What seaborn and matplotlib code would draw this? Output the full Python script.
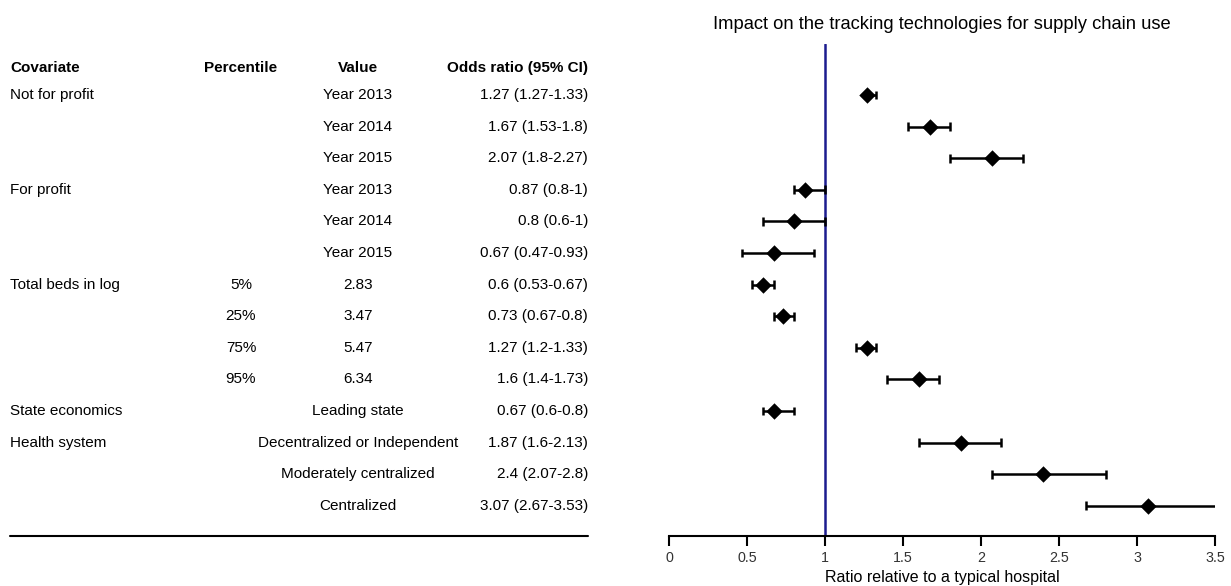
import matplotlib
matplotlib.use("Agg")
import matplotlib.pyplot as plt
import seaborn as sns
import pandas as pd

# ---- data ----
covariates = ["Not for profit", "", "", "For profit", "", "", "Total beds in log", "", "", "",
              "State economics", "Health system", "", ""]
percentiles = ["", "", "", "", "", "", "5%", "25%", "75%", "95%", "", "", "", ""]
values = ["Year 2013", "Year 2014", "Year 2015", "Year 2013", "Year 2014", "Year 2015",
          "2.83", "3.47", "5.47", "6.34", "Leading state", "Decentralized or Independent",
          "Moderately centralized", "Centralized"]
odds = [1.27, 1.67, 2.07, 0.87, 0.8, 0.67, 0.6, 0.73, 1.27, 1.6, 0.67, 1.87, 2.4, 3.07]
lower = [1.27, 1.53, 1.8, 0.8, 0.6, 0.47, 0.53, 0.67, 1.2, 1.4, 0.6, 1.6, 2.07, 2.67]
upper = [1.33, 1.8, 2.27, 1.0, 1.0, 0.93, 0.67, 0.8, 1.33, 1.73, 0.8, 2.13, 2.8, 3.53]
headers = ["Covariate", "Percentile", "Value", "Odds ratio (95% CI)"]
xticks = [0, 0.5, 1, 1.5, 2, 2.5, 3, 3.5]

df = pd.DataFrame({"row": range(len(odds)), "odds": odds, "lower": lower, "upper": upper})

sns.set_theme(style="white")
plt.rcParams["font.family"] = ["Liberation Sans", "DejaVu Sans"]
plt.rcParams["text.color"] = "black"
FS = 11

W, H = 1231, 586
fig = plt.figure(figsize=(W / 100, H / 100), dpi=100)

row0, step = 95.0, 31.6
ax_top_px, ax_bot_px = 44, 536
ylim = ((ax_bot_px - row0) / step, (ax_top_px - row0) / step)

# ---- forest plot ----
left_px, right_px = 669, 1215
ax = fig.add_axes([left_px / W, 1 - ax_bot_px / H, (right_px - left_px) / W, (ax_bot_px - ax_top_px) / H])
ax.set_xlim(0, 3.5)
ax.set_ylim(*ylim)
ax.axvline(1, color="#1c1c8f", lw=1.8, zorder=1)
ax.hlines(df["row"], df["lower"], df["upper"], color="black", lw=1.8, zorder=2)
for r, lo, hi in zip(df["row"], df["lower"], df["upper"]):
    ax.vlines([lo, hi], r - 0.14, r + 0.14, color="black", lw=1.8, zorder=2)
sns.scatterplot(data=df, x="odds", y="row", marker="D", s=70, color="black",
                edgecolor="black", linewidth=0, ax=ax, zorder=3)
for s in ["left", "right", "top"]:
    ax.spines[s].set_visible(False)
ax.spines["bottom"].set_color("black")
ax.spines["bottom"].set_linewidth(1.5)
ax.set_yticks([])
ax.set_ylabel("")
ax.set_xticks(xticks)
ax.set_xticklabels([f"{t:g}" for t in xticks], fontsize=10.3, color="#333333")
ax.tick_params(axis="x", bottom=True, direction="out", length=7, width=1.5, color="black", pad=4)
ax.set_xlabel("Ratio relative to a typical hospital", fontsize=11.5, labelpad=3.5, color="black")
ax.set_title("Impact on the tracking technologies for supply chain use", fontsize=13.2, pad=11,
             color="black")

# ---- table ----
tx = fig.add_axes([0, 1 - ax_bot_px / H, 640 / W, (ax_bot_px - ax_top_px) / H])
tx.set_xlim(0, 640)
tx.set_ylim(*ylim)
tx.axis("off")
hdr_y = (68 - row0) / step
col_x = [10, 241, 358, 588]
col_ha = ["left", "center", "center", "right"]
for x, ha, h in zip(col_x, col_ha, headers):
    tx.text(x, hdr_y, h, ha=ha, va="center", fontsize=FS, fontweight="bold")
for i in range(len(odds)):
    tx.text(col_x[0], i, covariates[i], ha="left", va="center", fontsize=FS)
    tx.text(col_x[1], i, percentiles[i], ha="center", va="center", fontsize=FS)
    tx.text(col_x[2], i, values[i], ha="center", va="center", fontsize=FS)
    tx.text(col_x[3], i, f"{odds[i]:g} ({lower[i]:g}-{upper[i]:g})", ha="right", va="center", fontsize=FS)
line_y = (536 - row0) / step
tx.plot([10, 588], [line_y, line_y], color="black", lw=1.5, clip_on=False)

fig.savefig("out.png", dpi=100)
